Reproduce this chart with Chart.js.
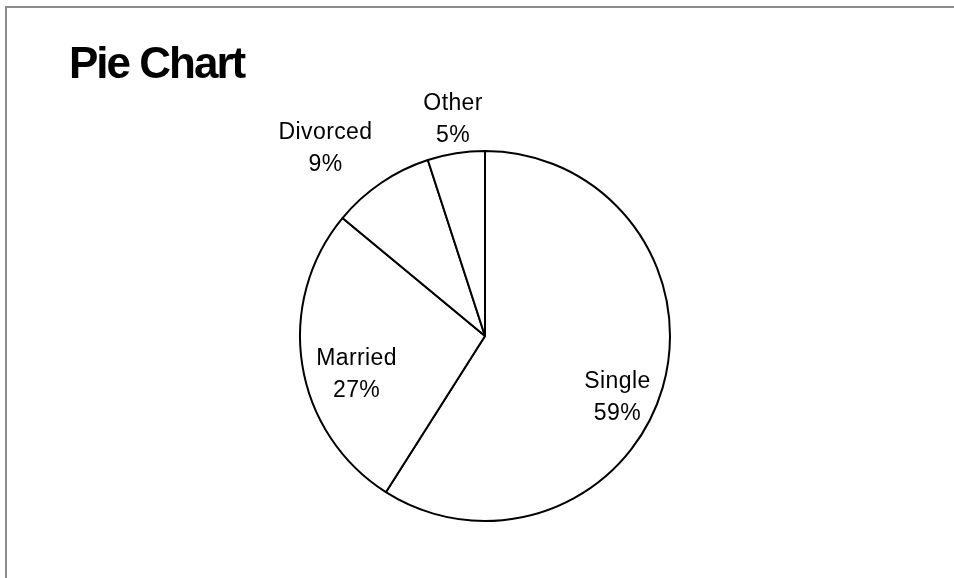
<!DOCTYPE html>
<html>
<head>
<meta charset="utf-8">
<script src="https://cdn.jsdelivr.net/npm/chart.js@4"></script>
<style>
  body { margin: 0; background: #fff; }
  #wrap { position: relative; width: 954px; height: 578px; }
  #frame { position: absolute; left: 5px; top: 6px; right: 0; bottom: 0;
           border-top: 2px solid #8c8c8c; border-left: 2px solid #8c8c8c; }
  canvas { position: absolute; left: 0; top: 0; }
</style>
</head>
<body>
<div id="wrap">
  <div id="frame"></div>
  <canvas id="pie" width="954" height="578"></canvas>
</div>
<script>
const categories = ['Single', 'Married', 'Divorced', 'Other'];
const shares = [59, 27, 9, 5];
const chartTitle = 'Pie Chart';

// where each label sits: fraction of radius + angle nudge (degrees)
const labelPlace = [
  { f: 0.79, shift: 8.8 },
  { f: 0.725, shift: -7.8 },
  { f: 1.33, shift: -6.2 },
  { f: 1.18, shift: 0.6 }
];

const labelPlugin = {
  id: 'sliceLabels',
  afterDraw(chart) {
    const ctx = chart.ctx;
    ctx.save();
    // title
    ctx.fillStyle = '#000';
    ctx.font = 'bold 44px "Liberation Sans", Arial, sans-serif';
    ctx.letterSpacing = '-2px';
    ctx.textAlign = 'left';
    ctx.textBaseline = 'alphabetic';
    ctx.fillText(chartTitle, 69, 78);

    // slice labels
    ctx.font = '23px "Liberation Sans", Arial, sans-serif';
    ctx.letterSpacing = '0.4px';
    ctx.textAlign = 'center';
    ctx.textBaseline = 'middle';
    const total = shares.reduce((a, b) => a + b, 0);
    chart.getDatasetMeta(0).data.forEach((arc, i) => {
      const p = arc.getProps(['x', 'y', 'startAngle', 'endAngle', 'outerRadius'], true);
      const mid = (p.startAngle + p.endAngle) / 2 + labelPlace[i].shift * Math.PI / 180;
      const r = p.outerRadius * labelPlace[i].f;
      const cx = p.x + Math.cos(mid) * r;
      const cy = p.y + Math.sin(mid) * r;
      const pct = Math.round(shares[i] / total * 100) + '%';
      ctx.fillText(categories[i], cx, cy - 16);
      ctx.fillText(pct, cx, cy + 16);
    });
    ctx.restore();
  }
};

new Chart(document.getElementById('pie'), {
  type: 'pie',
  data: {
    labels: categories,
    datasets: [{
      data: shares,
      backgroundColor: '#ffffff',
      borderColor: '#000000',
      borderWidth: 2
    }]
  },
  options: {
    responsive: false,
    animation: false,
    layout: { padding: { top: 150, bottom: 56, left: 16, right: 0 } },
    plugins: {
      legend: { display: false },
      tooltip: { enabled: false },
      title: { display: false }
    }
  },
  plugins: [labelPlugin]
});
</script>
</body>
</html>
